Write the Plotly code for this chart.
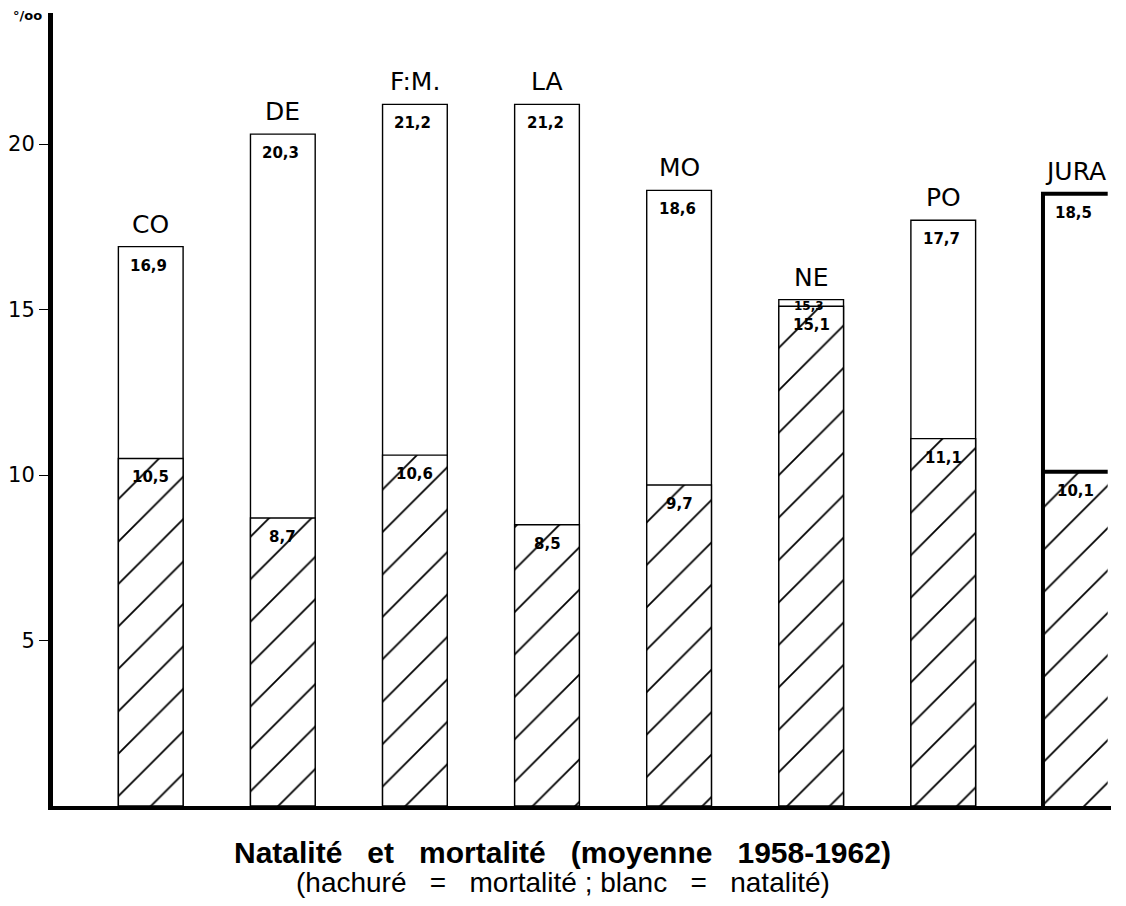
import plotly.graph_objects as go

# ---- data ----
regions = ["CO", "DE", "F:M.", "LA", "MO", "NE", "PO", "JURA"]
natalite = [16.9, 20.3, 21.2, 21.2, 18.6, 15.3, 17.7, 18.5]
mortalite = [10.5, 8.7, 10.6, 8.5, 9.7, 15.1, 11.1, 10.1]
y_ticks = [5, 10, 15, 20]
unit_label = "°/oo"
SP = "\u00a0\u00a0\u00a0"
title_text = f"Natalité{SP}et{SP}mortalité{SP}(moyenne{SP}1958-1962)"
subtitle_text = f"(hachuré{SP}={SP}mortalité ;\u00a0blanc{SP}={SP}natalité)"

# ---- styling ----
BAR_W = 0.49
LABEL_FONT = "DejaVu Sans"
VAL_FONT = "DejaVu Sans"
TITLE_FONT = "Liberation Sans"
idx = list(range(len(regions)))
highlight = len(regions) - 1  # JURA drawn with heavy open frame


def fmt(v):
    return f"{v:.1f}".replace(".", ",")


line_w = [0 if i == highlight else 1.4 for i in idx]

fig = go.Figure()

# natalité (white, full height)
fig.add_trace(go.Bar(
    x=idx, y=natalite, width=BAR_W,
    marker=dict(color="white", line=dict(color="black", width=line_w)),
    showlegend=False, hoverinfo="skip",
))

# mortalité (hatched)
fig.add_trace(go.Bar(
    x=idx, y=mortalite, width=BAR_W,
    marker=dict(
        color="white",
        line=dict(color="black", width=line_w),
        pattern=dict(shape="/", fgcolor="black", bgcolor="white", fgopacity=1,
                     size=30, solidity=0.06, fillmode="replace"),
    ),
    showlegend=False, hoverinfo="skip",
))

# heavy open frame for JURA (left edge + top edges), derived from data
xl = highlight - BAR_W / 2
xr = highlight + BAR_W / 2
fig.add_trace(go.Scatter(
    x=[xl, xl, xr], y=[0, natalite[highlight], natalite[highlight]],
    mode="lines", line=dict(color="black", width=4),
    showlegend=False, hoverinfo="skip",
))
fig.add_trace(go.Scatter(
    x=[xl, xr], y=[mortalite[highlight], mortalite[highlight]],
    mode="lines", line=dict(color="black", width=4),
    showlegend=False, hoverinfo="skip",
))

annotations = []
for i in idx:
    n, m = natalite[i], mortalite[i]
    # region name above bar
    annotations.append(dict(
        x=i, y=n, xref="x", yref="y", text=regions[i], showarrow=False,
        yanchor="bottom", yshift=6,
        font=dict(family=LABEL_FONT, size=25, color="black"),
    ))
    narrow = (n - m) < 1.0
    # natalité value
    annotations.append(dict(
        x=i, y=n, xref="x", yref="y", text=f"<b>{fmt(n)}</b>", showarrow=False,
        yanchor="middle", yshift=-6 if narrow else -19, xshift=-2,
        font=dict(family=VAL_FONT, size=12 if narrow else 15, color="black"),
    ))
    # mortalité value
    annotations.append(dict(
        x=i, y=m, xref="x", yref="y", text=f"<b>{fmt(m)}</b>", showarrow=False,
        yanchor="middle", yshift=-19, xshift=0,
        font=dict(family=VAL_FONT, size=15, color="black"),
    ))

annotations += [
    dict(x=-0.024, y=0.997, xref="paper", yref="paper", text=f"<b>{unit_label}</b>",
         showarrow=False, xanchor="center", yanchor="middle",
         font=dict(family=VAL_FONT, size=13, color="black")),
    dict(x=0.482, y=-0.059, xref="paper", yref="paper", text=f"<b>{title_text}</b>",
         showarrow=False, xanchor="center", yanchor="middle",
         font=dict(family=TITLE_FONT, size=30, color="black")),
    dict(x=0.482, y=-0.097, xref="paper", yref="paper", text=subtitle_text,
         showarrow=False, xanchor="center", yanchor="middle",
         font=dict(family=TITLE_FONT, size=28, color="black")),
]

fig.update_layout(
    width=1110, height=890,
    margin=dict(l=45, r=7, t=5, b=92, autoexpand=False),
    paper_bgcolor="white", plot_bgcolor="white",
    barmode="overlay",
    annotations=annotations,
    xaxis=dict(
        range=[-0.74, 7.27], showticklabels=False, ticks="",
        showgrid=False, zeroline=False, automargin=False,
        showline=True, linecolor="black", linewidth=4,
    ),
    yaxis=dict(
        range=[0, 23.96], tickvals=y_ticks, ticktext=[str(v) for v in y_ticks],
        ticks="outside", ticklen=9, tickwidth=1.2, tickcolor="black",
        tickfont=dict(family=LABEL_FONT, size=21, color="black"),
        showgrid=False, zeroline=False, automargin=False,
        showline=True, linecolor="black", linewidth=5,
    ),
)

fig.write_html("out.html")
